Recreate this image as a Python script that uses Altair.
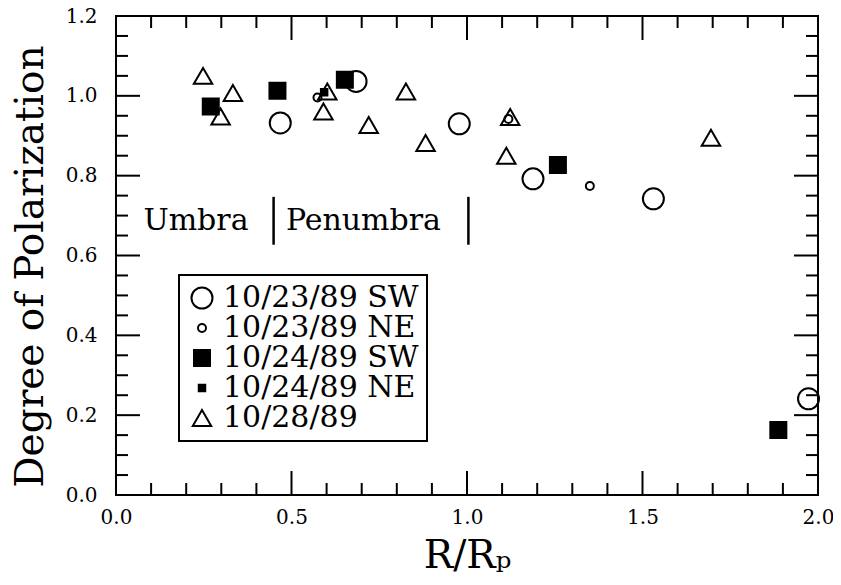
import altair as alt
import pandas as pd

# ---- data ----
series_names = ["10/23/89 SW", "10/23/89 NE", "10/24/89 SW", "10/24/89 NE", "10/28/89"]

sw23_x = [0.468, 0.684, 0.978, 1.188, 1.531, 1.973]
sw23_y = [0.932, 1.036, 0.930, 0.792, 0.742, 0.241]
ne23_x = [0.574, 1.118, 1.350]
ne23_y = [0.996, 0.942, 0.774]
sw24_x = [0.270, 0.460, 0.652, 1.259, 1.887]
sw24_y = [0.973, 1.013, 1.040, 0.827, 0.163]
ne24_x = [0.593]
ne24_y = [1.009]
d28_x = [0.248, 0.298, 0.333, 0.591, 0.602, 0.720, 0.826, 0.882, 1.112, 1.123, 1.695]
d28_y = [1.050, 0.948, 1.007, 0.961, 1.011, 0.927, 1.011, 0.882, 0.850, 0.947, 0.895]

x_labels = [0.0, 0.5, 1.0, 1.5, 2.0]
y_labels = [0.0, 0.2, 0.4, 0.6, 0.8, 1.0, 1.2]
x_minor = [0.1, 0.2, 0.3, 0.4, 0.6, 0.7, 0.8, 0.9, 1.1, 1.2, 1.3, 1.4, 1.6, 1.7, 1.8, 1.9]
x_major = [0.5, 1.0, 1.5]
y_minor = [0.05, 0.1, 0.15, 0.25, 0.3, 0.35, 0.45, 0.5, 0.55, 0.65, 0.7, 0.75,
           0.85, 0.9, 0.95, 1.05, 1.1, 1.15]
y_major = [0.2, 0.4, 0.6, 0.8, 1.0]

region_text = ["Umbra", "Penumbra"]
region_text_x = [0.078, 0.484]
region_text_y = [0.664, 0.664]
divider_x = [0.449, 1.004]
divider_y0 = [0.627, 0.627]
divider_y1 = [0.747, 0.747]

# ---- build tables ----
rows = []
for name, xs_, ys_ in zip(series_names,
                          [sw23_x, ne23_x, sw24_x, ne24_x, d28_x],
                          [sw23_y, ne23_y, sw24_y, ne24_y, d28_y]):
    for a, b in zip(xs_, ys_):
        rows.append({"r": a, "p": b, "series": name})
df = pd.DataFrame(rows)

W, H = 702, 479
FONT = "DejaVu Serif"
XTITLE = "R/Rₚ"
YTITLE = "Degree of Polarization"

xs = alt.Scale(domain=[0, 2], nice=False, zero=False)
ys = alt.Scale(domain=[0, 1.2], nice=False, zero=False)
xaxis = alt.Axis(values=x_labels, format=".1f", ticks=False, domain=False,
                 grid=False, labelPadding=12, titlePadding=9, labelFlush=False)
yaxis = alt.Axis(values=y_labels, format=".1f", ticks=False, domain=False,
                 grid=False, labelPadding=19, titlePadding=15, labelFlush=False,
                 titleY=250)


def X(field):
    return alt.X(field, scale=xs, axis=xaxis, title=XTITLE)


def Y(field):
    return alt.Y(field, scale=ys, axis=yaxis, title=YTITLE)


leg = alt.Legend(
    title=None, orient="none", legendX=63, legendY=259,
    padding=8, strokeColor="black", labelLimit=500,
    labelFont=FONT, labelFontSize=30, labelColor="black", labelOffset=6,
    rowPadding=0, symbolStrokeWidth=2, symbolOpacity=1,
)

points = alt.Chart(df).mark_point(strokeWidth=2, opacity=1).encode(
    x=X("r:Q"),
    y=Y("p:Q"),
    shape=alt.Shape("series:N", legend=leg, sort=series_names,
                    scale=alt.Scale(domain=series_names,
                                    range=["circle", "circle", "square", "square", "triangle-up"])),
    size=alt.Size("series:N", legend=leg, sort=series_names,
                  scale=alt.Scale(type="ordinal", domain=series_names,
                                  range=[441, 64, 256, 42, 340])),
    fill=alt.Fill("series:N", legend=leg, sort=series_names,
                  scale=alt.Scale(domain=series_names,
                                  range=["transparent", "transparent", "black", "black", "transparent"])),
    stroke=alt.Stroke("series:N", legend=leg, sort=series_names,
                      scale=alt.Scale(domain=series_names,
                                      range=["black", "black", "black", "black", "black"])),
)


def xticks(vals, length):
    d = pd.DataFrame({"v": vals})
    base = alt.Chart(d).mark_rule(color="black", strokeWidth=2)
    bottom = base.encode(x=X("v:Q"), y=alt.value(H), y2=alt.value(H - length))
    top = base.encode(x=X("v:Q"), y=alt.value(0), y2=alt.value(length))
    return [bottom, top]


def yticks(vals, length):
    d = pd.DataFrame({"v": vals})
    base = alt.Chart(d).mark_rule(color="black", strokeWidth=2)
    left = base.encode(y=Y("v:Q"), x=alt.value(0), x2=alt.value(length))
    right = base.encode(y=Y("v:Q"), x=alt.value(W - length), x2=alt.value(W))
    return [left, right]


tick_layers = xticks(x_minor, 12) + xticks(x_major, 24) + yticks(y_minor, 12) + yticks(y_major, 24)

txt_df = pd.DataFrame({"t": region_text, "x": region_text_x, "y": region_text_y})
texts = alt.Chart(txt_df).mark_text(font=FONT, fontSize=30, align="left",
                                    baseline="alphabetic", color="black").encode(
    x=X("x:Q"), y=Y("y:Q"), text="t:N")

div_df = pd.DataFrame({"x": divider_x, "y0": divider_y0, "y1": divider_y1})
dividers = alt.Chart(div_df).mark_rule(color="black", strokeWidth=2.5).encode(
    x=X("x:Q"), y=Y("y0:Q"), y2="y1:Q")

chart = alt.layer(points, *tick_layers, texts, dividers).properties(
    width=W, height=H,
    autosize=alt.AutoSizeParams(type="none"),
    padding={"left": 108, "top": 8, "right": 15, "bottom": 82},
    background="white",
).configure_view(stroke="black", strokeWidth=2).configure_axis(
    labelFont=FONT, labelFontSize=20, labelColor="black",
    titleFont=FONT, titleFontSize=39, titleFontWeight="normal", titleColor="black",
).configure_legend(strokeWidth=2)

chart.save("out.html", embed_options={"renderer": "svg", "actions": False})
